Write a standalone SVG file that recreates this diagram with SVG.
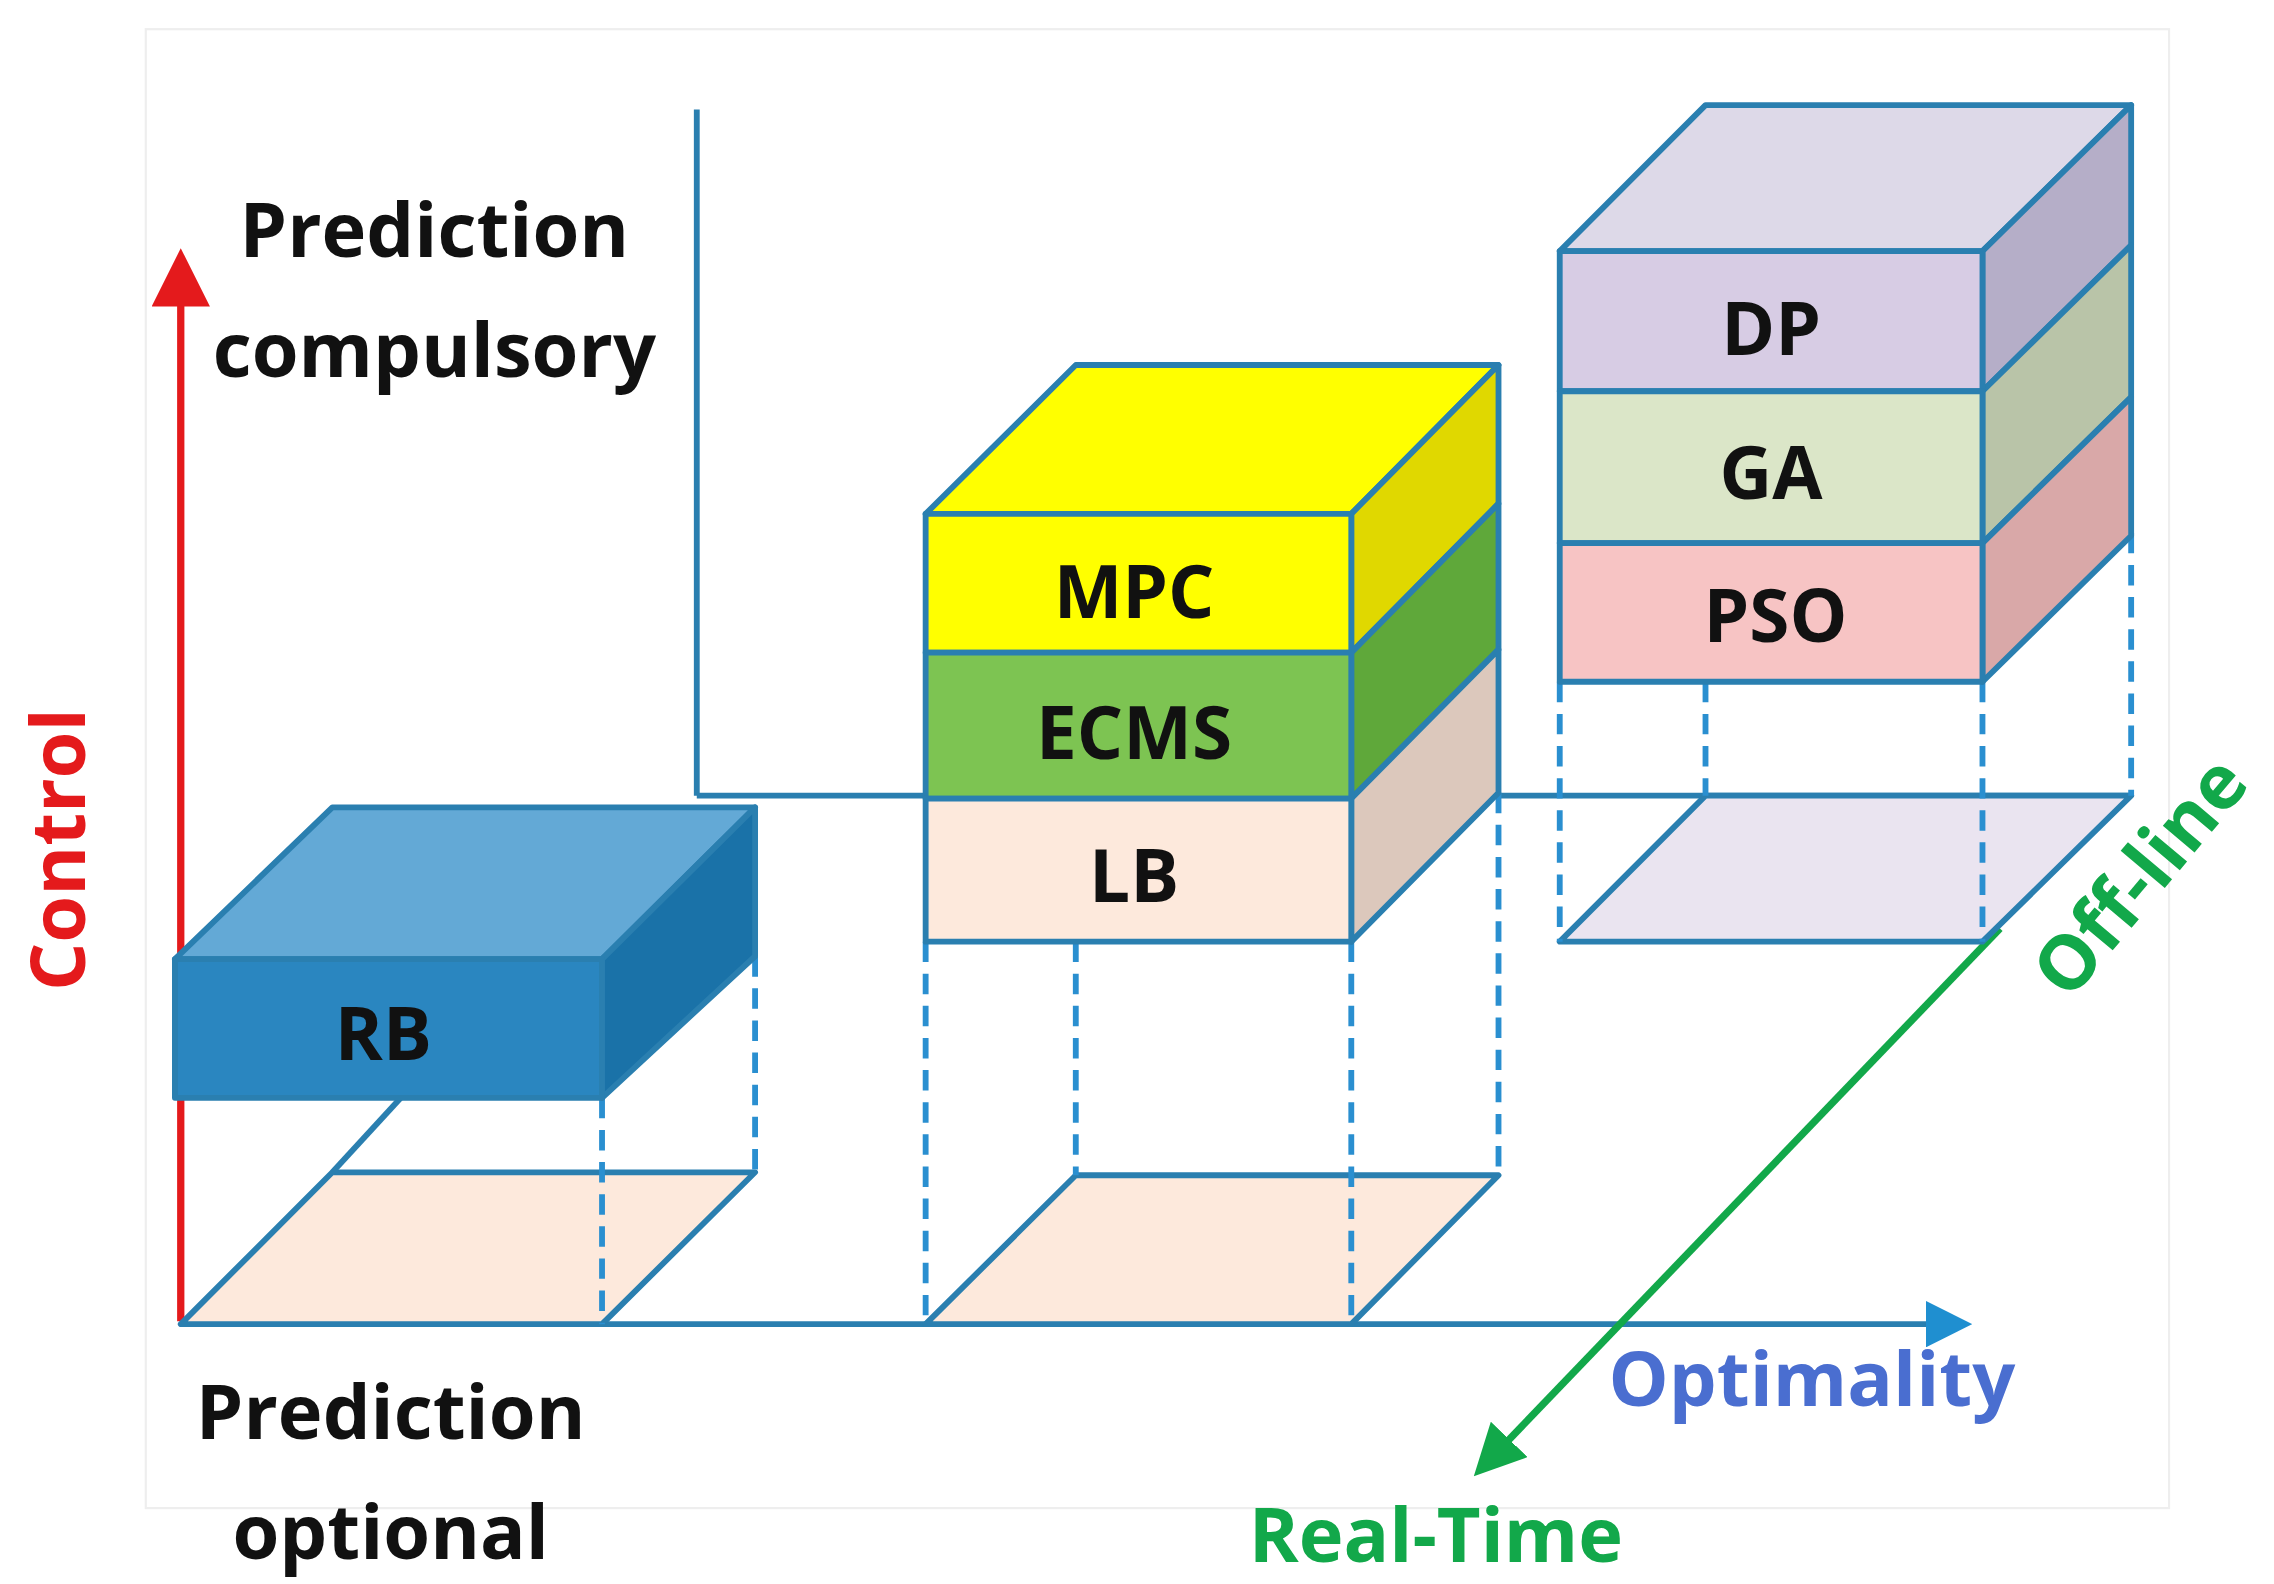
<svg xmlns="http://www.w3.org/2000/svg" width="2274" height="1584" viewBox="0 0 2274 1584">
<style>
.e{stroke:#2a7fb0;stroke-width:4;stroke-linejoin:round}
.d{stroke:#2a8fd0;stroke-width:4;stroke-dasharray:14 8;fill:none}
.l{font-family:"Open Sans","DejaVu Sans",sans-serif;font-weight:bold;font-size:50px;text-anchor:middle;fill:#111}
</style>
<defs>
<marker id="ar" markerWidth="8" markerHeight="8" refX="6" refY="4" orient="auto" markerUnits="strokeWidth"><path d="M0,0 L8,4 L0,8 z" fill="#e41a1c"/></marker>
<marker id="ab" markerWidth="8" markerHeight="8" refX="6" refY="4" orient="auto" markerUnits="strokeWidth"><path d="M0,0 L8,4 L0,8 z" fill="#1f8fd0"/></marker>
<marker id="ag" markerWidth="7" markerHeight="7" refX="5" refY="3.5" orient="auto" markerUnits="strokeWidth"><path d="M0,0 L7,3.5 L0,7 z" fill="#12a84a"/></marker>
</defs>
<rect width="2274" height="1584" fill="#fff"/>
<g transform="scale(1.4577,1.4599)">
<rect x="100" y="20" width="1388" height="1013" fill="none" stroke="#eee" stroke-width="1.5"/>
<g id="connectors">
<line x1="478" y1="75" x2="478" y2="545" class="e" fill="none"/>
<line x1="478" y1="545" x2="1462" y2="545" class="e"/>
<line x1="124" y1="907" x2="1345" y2="907" class="e" stroke="#1f8fd0" marker-end="url(#ab)"/>
<line x1="124" y1="905" x2="124" y2="180" stroke="#e41a1c" stroke-width="5" marker-end="url(#ar)"/>
<line x1="1372" y1="636" x2="1018" y2="1004" stroke="#12a84a" stroke-width="5" marker-end="url(#ag)"/>
</g>
<g id="rb">
<polygon points="124,907 413,907 518,803 228,803" fill="#fde9dc" class="e"/>
<line x1="228" y1="803" x2="275" y2="752" class="e"/>
<line x1="413" y1="752" x2="413" y2="907" class="d"/>
<line x1="518" y1="655" x2="518" y2="803" class="d"/>
<polygon points="120,657 413,657 518,553 228,553" fill="#63a9d6" class="e"/>
<polygon points="413,657 518,553 518,655 413,752" fill="#1a72a8" class="e"/>
<rect x="120" y="657" width="293" height="95" fill="#2a86c0" class="e"/>
<text x="263" y="726" class="l">RB</text>
</g>
<g id="mid">
<polygon points="635,907 927,907 1028,805 738,805" fill="#fde9dc" class="e"/>
<line x1="635" y1="645" x2="635" y2="907" class="d"/>
<line x1="738" y1="645" x2="738" y2="805" class="d"/>
<line x1="927" y1="645" x2="927" y2="907" class="d"/>
<line x1="1028" y1="543" x2="1028" y2="805" class="d"/>
<polygon points="635,352 927,352 1028,250 738,250" fill="#ffff00" class="e"/>
<polygon points="927,352 1028,250 1028,345 927,447" fill="#e0d800" class="e"/>
<polygon points="927,447 1028,345 1028,445 927,547" fill="#5fa83a" class="e"/>
<polygon points="927,547 1028,445 1028,543 927,645" fill="#dcc8bc" class="e"/>
<rect x="635" y="352" width="292" height="95" fill="#ffff00" class="e"/>
<rect x="635" y="447" width="292" height="100" fill="#7dc452" class="e"/>
<rect x="635" y="547" width="292" height="98" fill="#fde9dc" class="e"/>
<text x="778" y="423" class="l">MPC</text>
<text x="778" y="520" class="l">ECMS</text>
<text x="778" y="618" class="l">LB</text>
</g>
<g id="right">
<polygon points="1070,645 1360,645 1462,545 1170,545" fill="#eae4f0" class="e"/>
<line x1="1070" y1="467" x2="1070" y2="645" class="d"/>
<line x1="1170" y1="467" x2="1170" y2="545" class="d"/>
<line x1="1360" y1="467" x2="1360" y2="645" class="d"/>
<line x1="1462" y1="365" x2="1462" y2="545" class="d"/>
<polygon points="1070,172 1360,172 1462,72 1170,72" fill="#ddd9e8" class="e"/>
<polygon points="1360,172 1462,72 1462,168 1360,268" fill="#b5aec8" class="e"/>
<polygon points="1360,268 1462,168 1462,272 1360,372" fill="#b9c4a8" class="e"/>
<polygon points="1360,372 1462,272 1462,367 1360,467" fill="#d9a8a8" class="e"/>
<rect x="1070" y="172" width="290" height="96" fill="#d7cce4" class="e"/>
<rect x="1070" y="268" width="290" height="104" fill="#dbe6c8" class="e"/>
<rect x="1070" y="372" width="290" height="95" fill="#f7c4c4" class="e"/>
<text x="1215" y="243" class="l">DP</text>
<text x="1215" y="342" class="l">GA</text>
<text x="1218" y="440" class="l">PSO</text>
</g>
<g id="labels" font-family="'Open Sans','DejaVu Sans',sans-serif" font-weight="bold" font-size="52" text-anchor="middle">
<text x="298" y="176" fill="#111">Prediction</text>
<text x="298" y="258" fill="#111">compulsory</text>
<text x="268" y="986" fill="#111">Prediction</text>
<text x="268" y="1068" fill="#111">optional</text>
<text x="1243" y="963" fill="#4a6ed0">Optimality</text>
<text x="985" y="1070" fill="#12a84a">Real-Time</text>
<text transform="translate(58,582) rotate(-90)" fill="#e41a1c">Control</text>
<text transform="translate(1482,612) rotate(-50)" fill="#12a84a">Off-line</text>
</g>
</g>
</svg>
